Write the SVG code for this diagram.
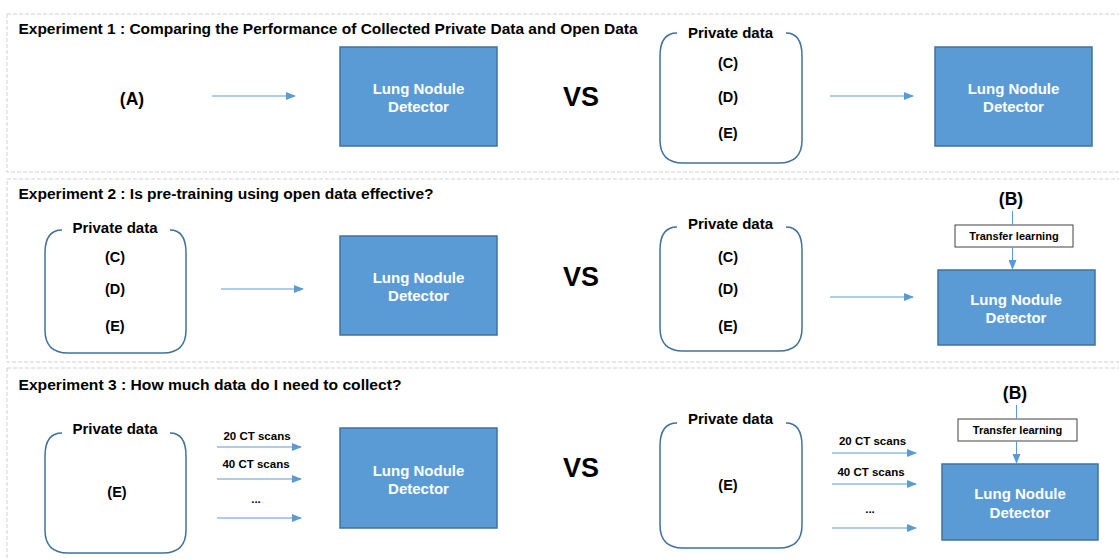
<svg xmlns="http://www.w3.org/2000/svg" width="1119" height="560" viewBox="0 0 1119 560">
<style>
text{font-family:"Liberation Sans",Arial,sans-serif;font-weight:bold;fill:#000;dominant-baseline:central}
.title{font-size:14px}
.lbl{font-size:15px;text-anchor:middle}
.cd{font-size:14.5px;text-anchor:middle}
.big{font-size:17.5px;text-anchor:middle}
.vs{font-size:27px;text-anchor:middle}
.wt{font-size:15px;text-anchor:middle;fill:#fff}
.sm{font-size:11px;text-anchor:middle}
.scan{font-size:11.5px;text-anchor:middle}
.panel{fill:none;stroke:#d0d0d0;stroke-width:1;stroke-dasharray:4 2}
.det{fill:#5b9bd5;stroke:#41719c;stroke-width:1.5}
.pd{fill:none;stroke:#41719c;stroke-width:1.5}
.tl{fill:#fff;stroke:#404040;stroke-width:1}
.ar{fill:none;stroke:#5b9bd5;stroke-width:1;marker-end:url(#ah)}
.ln{fill:none;stroke:#5b9bd5;stroke-width:1}
</style>
<defs>
<marker id="ah" markerUnits="userSpaceOnUse" markerWidth="10" markerHeight="8" refX="9" refY="4" orient="auto">
<path d="M0,0 L10,4 L0,8 z" fill="#5b9bd5"/>
</marker>
</defs>
<rect width="1119" height="560" fill="#fff"/>
<g id="panels">
<rect class="panel" x="7" y="14" width="1125" height="158"/>
<rect class="panel" x="7" y="179" width="1125" height="183"/>
<rect class="panel" x="7" y="368" width="1125" height="200"/>
</g>
<g id="titles">
<text class="title" x="18.5" y="29" textLength="619" lengthAdjust="spacingAndGlyphs">Experiment 1 : Comparing the Performance of Collected Private Data and Open Data</text>
<text class="title" x="18.5" y="194" textLength="415" lengthAdjust="spacingAndGlyphs">Experiment 2 : Is pre-training using open data effective?</text>
<text class="title" x="18.5" y="385" textLength="383" lengthAdjust="spacingAndGlyphs">Experiment 3 : How much data do I need to collect?</text>
</g>
<g id="vs">
<text class="vs" x="581" y="97">VS</text>
<text class="vs" x="581" y="277">VS</text>
<text class="vs" x="581" y="468">VS</text>
</g>
<g id="e1-A"><text class="big" x="132" y="99">(A)</text></g>
<g id="e1-det1">
<rect class="det" x="340" y="47" width="157" height="99"/>
<text class="wt" x="418.5" y="88">Lung Nodule</text>
<text class="wt" x="418.5" y="106">Detector</text>
</g>
<g id="e1-private">
<path class="pd" d="M677,33 Q660,33 660,56 V140 Q660,163 683,163 H779 Q802,163 802,140 V56 Q802,33 786,33"/>
<text class="lbl" x="730.5" y="32">Private data</text>
<text class="cd" x="728" y="63">(C)</text>
<text class="cd" x="728" y="97">(D)</text>
<text class="cd" x="728" y="133">(E)</text>
</g>
<g id="e1-det2">
<rect class="det" x="935" y="47" width="157" height="99"/>
<text class="wt" x="1013.5" y="88">Lung Nodule</text>
<text class="wt" x="1013.5" y="106">Detector</text>
</g>
<g id="e2-private">
<path class="pd" d="M62,230 Q45,230 45,253 V330 Q45,353 68,353 H163 Q186,353 186,330 V253 Q186,230 170,230"/>
<text class="lbl" x="115" y="227">Private data</text>
<text class="cd" x="115" y="257">(C)</text>
<text class="cd" x="115" y="289">(D)</text>
<text class="cd" x="115" y="326">(E)</text>
</g>
<g id="e2-det1">
<rect class="det" x="340" y="236" width="157" height="99"/>
<text class="wt" x="418.5" y="277">Lung Nodule</text>
<text class="wt" x="418.5" y="295">Detector</text>
</g>
<g id="e2-private2">
<path class="pd" d="M677,227 Q660,227 660,250 V328 Q660,351 683,351 H779 Q802,351 802,328 V250 Q802,227 786,227"/>
<text class="lbl" x="730.5" y="223">Private data</text>
<text class="cd" x="728" y="257">(C)</text>
<text class="cd" x="728" y="289">(D)</text>
<text class="cd" x="728" y="326">(E)</text>
</g>
<g id="e2-B"><text class="big" x="1011" y="199">(B)</text></g>
<g id="e2-tl">
<rect class="tl" x="955" y="225" width="118" height="22"/>
<text class="sm" x="1014" y="236">Transfer learning</text>
</g>
<g id="e2-det2">
<rect class="det" x="938" y="270" width="157" height="75"/>
<text class="wt" x="1016" y="299">Lung Nodule</text>
<text class="wt" x="1016" y="317">Detector</text>
</g>
<g id="e3-private">
<path class="pd" d="M62,433 Q45,433 45,456 V530 Q45,553 68,553 H163 Q186,553 186,530 V456 Q186,433 170,433"/>
<text class="lbl" x="115" y="428">Private data</text>
<text class="cd" x="117" y="492">(E)</text>
</g>
<g id="e3-det1">
<rect class="det" x="340" y="428" width="157" height="100"/>
<text class="wt" x="418.5" y="470">Lung Nodule</text>
<text class="wt" x="418.5" y="488">Detector</text>
</g>
<g id="e3-private2">
<path class="pd" d="M677,423 Q660,423 660,446 V525 Q660,548 683,548 H779 Q802,548 802,525 V446 Q802,423 786,423"/>
<text class="lbl" x="730.5" y="418">Private data</text>
<text class="cd" x="728" y="485">(E)</text>
</g>
<g id="e3-B"><text class="big" x="1015" y="393">(B)</text></g>
<g id="e3-tl">
<rect class="tl" x="958" y="419" width="119" height="22"/>
<text class="sm" x="1017.5" y="430">Transfer learning</text>
</g>
<g id="e3-det2">
<rect class="det" x="942" y="464" width="156" height="76"/>
<text class="wt" x="1020" y="493">Lung Nodule</text>
<text class="wt" x="1020" y="512">Detector</text>
</g>
<g id="connectors">
<line class="ar" x1="212" y1="96" x2="295" y2="96"/>
<line class="ar" x1="830" y1="96" x2="913" y2="96"/>
<line class="ar" x1="221" y1="289" x2="303" y2="289"/>
<line class="ar" x1="830" y1="297" x2="913" y2="297"/>
<line class="ln" x1="1012.5" y1="211" x2="1012.5" y2="225"/>
<line class="ar" x1="1012.5" y1="247" x2="1012.5" y2="269"/>
<line class="ar" x1="217" y1="447" x2="301" y2="447"/>
<line class="ar" x1="217" y1="479" x2="301" y2="479"/>
<line class="ar" x1="217" y1="518" x2="301" y2="518"/>
<line class="ar" x1="832" y1="453" x2="916" y2="453"/>
<line class="ar" x1="832" y1="484" x2="916" y2="484"/>
<line class="ar" x1="832" y1="528" x2="916" y2="528"/>
<line class="ln" x1="1016.5" y1="405" x2="1016.5" y2="419"/>
<line class="ar" x1="1016.5" y1="441" x2="1016.5" y2="463"/>
<text class="scan" x="257" y="436">20 CT scans</text>
<text class="scan" x="256" y="464">40 CT scans</text>
<text class="scan" x="256" y="499">...</text>
<text class="scan" x="872.5" y="441">20 CT scans</text>
<text class="scan" x="871" y="472">40 CT scans</text>
<text class="scan" x="870" y="509">...</text>
</g>
</svg>
